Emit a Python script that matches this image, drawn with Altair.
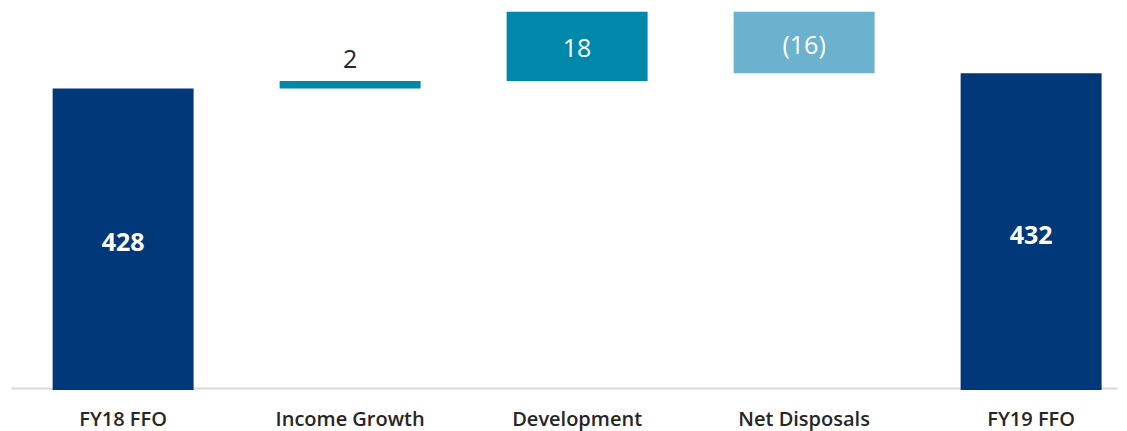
import altair as alt
import pandas as pd

categories = ["FY18 FFO", "Income Growth", "Development", "Net Disposals", "FY19 FFO"]
values = [428, 2, 18, -16, 432]
kinds = ["total", "increase", "increase", "decrease", "total"]
labels = ["428", "2", "18", "(16)", "432"]

rows = []
running = 0
for cat, v, k, lab in zip(categories, values, kinds, labels):
    if k == "total":
        start, end = 349.5, v
        running = v
    else:
        start, end = running, running + v
        running = end
    inside = "yes" if (k == "total" or abs(v) >= 5) else "no"
    rows.append(dict(cat=cat, value=v, kind=k, label=lab, start=start, end=end,
                     mid=(start + end) / 2, top=max(start, end), inside=inside))
df = pd.DataFrame(rows)

FONT = "Open Sans"
xscale = alt.Scale(domain=categories, paddingInner=0.379, paddingOuter=0.1256, align=0.73)
yscale = alt.Scale(domain=[350, 449], nice=False, zero=False)

base = alt.Chart(df).encode(
    x=alt.X("cat:N", scale=xscale, sort=categories, title=None,
            axis=alt.Axis(labelAngle=0, ticks=False, domainColor="#D9D9D9", domainWidth=2,
                          labelFont=FONT, labelFontSize=20, labelFontWeight=600,
                          labelColor="#262626", labelPadding=21, grid=False))
)

bars = base.mark_bar(clip=False).encode(
    y=alt.Y("start:Q", scale=yscale, axis=None),
    y2="end:Q",
    color=alt.Color("kind:N", scale=alt.Scale(domain=["total", "increase", "decrease"],
                                               range=["#00387A", "#0088AA", "#6CB2CF"]),
                    legend=None),
)

total_text = base.transform_filter(alt.datum.kind == "total").mark_text(
    font=FONT, fontSize=25, fontWeight="bold", color="white", baseline="middle", dy=4
).encode(y=alt.Y("mid:Q", scale=yscale), text="label:N")

inside_text = base.transform_filter(
    (alt.datum.kind != "total") & (alt.datum.inside == "yes")
).mark_text(font=FONT, fontSize=25, color="white", baseline="middle", dy=3).encode(
    y=alt.Y("mid:Q", scale=yscale), text="label:N")

outside_text = base.transform_filter(alt.datum.inside == "no").mark_text(
    font=FONT, fontSize=25, color="#262626", baseline="middle", dy=-21
).encode(y=alt.Y("top:Q", scale=yscale), text="label:N")

chart = alt.layer(bars, total_text, inside_text, outside_text).properties(
    width=1106, height=380,
    autosize=alt.AutoSizeParams(type="none"),
    padding={"left": 3, "right": 2, "top": 0, "bottom": 45},
).configure(background="white").configure_view(stroke=None, strokeWidth=0)

chart.save("out.html", embed_options={"renderer": "svg", "actions": False})
